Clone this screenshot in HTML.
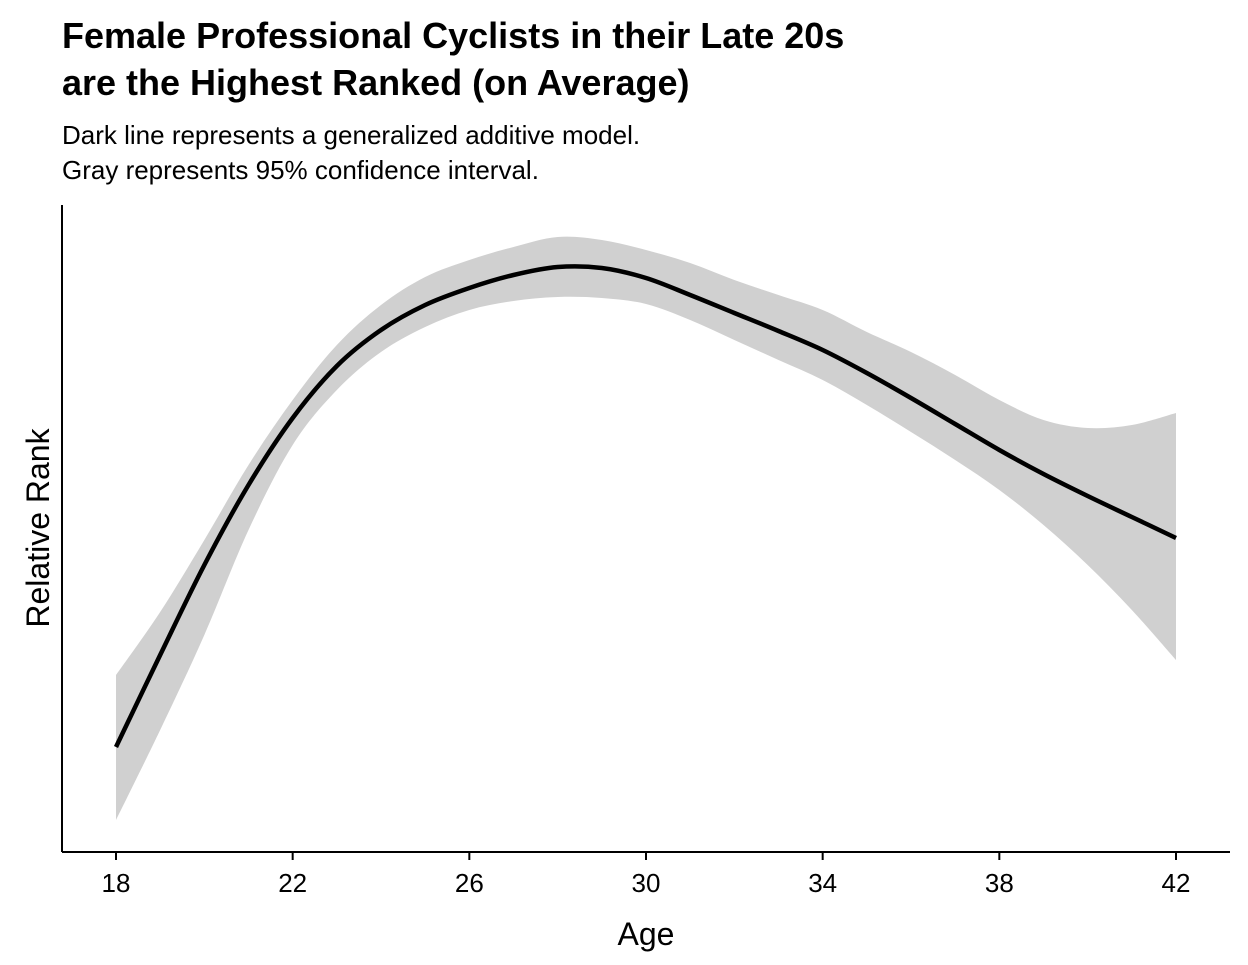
<!DOCTYPE html>
<html><head><meta charset="utf-8"><style>
body{margin:0;background:#fff;}
svg text{font-family:"Liberation Sans Narrow","Liberation Sans",sans-serif;fill:#000;}
</style></head><body>
<svg id="chart" width="1248" height="960">
<text x="62" y="48" font-size="36" font-weight="bold">Female Professional Cyclists in their Late 20s</text>
<text x="62" y="95" font-size="36" font-weight="bold">are the Highest Ranked (on Average)</text>
<text x="62" y="144" font-size="26">Dark line represents a generalized additive model.</text>
<text x="62" y="179" font-size="26">Gray represents 95% confidence interval.</text>
<g id="plot"></g>
<line x1="62" y1="205" x2="62" y2="852" stroke="#000" stroke-width="2"/>
<line x1="62" y1="852" x2="1230" y2="852" stroke="#000" stroke-width="2"/>
<g id="ticks"></g>
<text x="646" y="945" font-size="32" text-anchor="middle">Age</text>
<text transform="translate(49,528) rotate(-90)" font-size="32" text-anchor="middle">Relative Rank</text>
</svg>
<script>
const ages=[18,19,20,21,22,23,24,25,26,27,28,29,30,31,32,33,34,35,36,37,38,39,40,41,42];
const fit=[10.3,19.5,28.5,36.5,43.2,48.4,52.0,54.5,56.2,57.5,58.3,58.2,57.2,55.5,53.7,51.9,50.0,47.7,45.2,42.6,40.0,37.6,35.4,33.3,31.2];
const lower=[3.0,12.0,21.5,32.0,40.5,46.0,49.8,52.3,54.0,54.9,55.3,55.2,54.6,53.0,51.0,49.0,47.0,44.5,41.8,39.0,36.0,32.5,28.5,24.0,19.0];
const upper=[17.5,23.8,31.0,38.5,45.0,50.5,54.5,57.3,59.0,60.3,61.3,61.0,60.0,58.7,57.0,55.5,54.0,51.8,49.8,47.5,45.0,43.0,42.2,42.5,43.7];
const xTicks=[18,22,26,30,34,38,42];
const sx=a=>116+(a-18)*(1176-116)/24;
const sy=v=>850-v*10;
const NS="http://www.w3.org/2000/svg";
function smooth(pts){let d="M"+pts[0][0]+","+pts[0][1];
for(let i=0;i<pts.length-1;i++){const p0=pts[i-1]||pts[i],p1=pts[i],p2=pts[i+1],p3=pts[i+2]||p2;
d+=" C"+(p1[0]+(p2[0]-p0[0])/6)+","+(p1[1]+(p2[1]-p0[1])/6)+" "+(p2[0]-(p3[0]-p1[0])/6)+","+(p2[1]-(p3[1]-p1[1])/6)+" "+p2[0]+","+p2[1];}
return d;}
const plot=document.getElementById("plot");
const up=ages.map((a,i)=>[sx(a),sy(upper[i])]);
const lo=ages.map((a,i)=>[sx(a),sy(lower[i])]).reverse();
const band=document.createElementNS(NS,"path");
band.setAttribute("d",smooth(up)+" L"+lo[0][0]+","+lo[0][1]+smooth(lo).replace(/^M[^ ]+/,"")+" Z");
band.setAttribute("fill","#d0d0d0");


plot.appendChild(band);
const line=document.createElementNS(NS,"path");
line.setAttribute("d",smooth(ages.map((a,i)=>[sx(a),sy(fit[i])])));
line.setAttribute("fill","none");line.setAttribute("stroke","#000");line.setAttribute("stroke-width","4.5");


plot.appendChild(line);
const tg=document.getElementById("ticks");
xTicks.forEach(t=>{
const l=document.createElementNS(NS,"line");
l.setAttribute("x1",sx(t));l.setAttribute("x2",sx(t));l.setAttribute("y1",852);l.setAttribute("y2",860);
l.setAttribute("stroke","#000");l.setAttribute("stroke-width","2");


tg.appendChild(l);
const tx=document.createElementNS(NS,"text");
tx.setAttribute("x",sx(t));tx.setAttribute("y",892);tx.setAttribute("font-size","26");tx.setAttribute("text-anchor","middle");
tx.textContent=t;


tg.appendChild(tx);
});
</script>
</body></html>
